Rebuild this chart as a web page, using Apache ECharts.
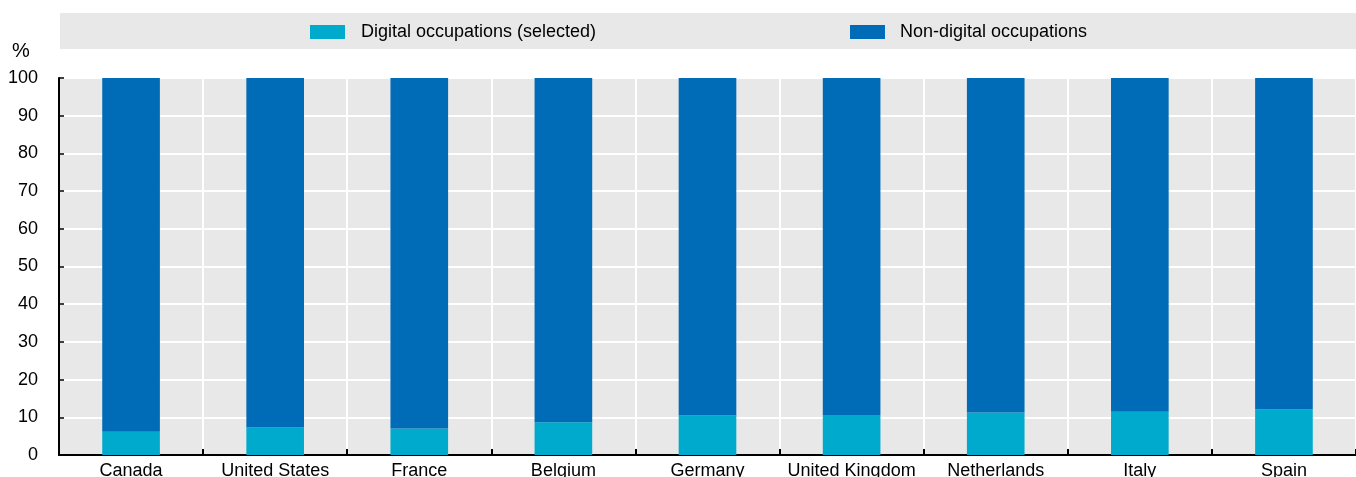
<!DOCTYPE html>
<html>
<head>
<meta charset="utf-8">
<script src="https://cdn.jsdelivr.net/npm/echarts@6/dist/echarts.min.js"></script>
<style>
  html, body { margin: 0; padding: 0; background: #fff; }
  #chart { width: 1356px; height: 477px; }
</style>
</head>
<body>
<div id="chart"></div>
<script>
const countries = ['Canada', 'United States', 'France', 'Belgium', 'Germany',
  'United Kingdom', 'Netherlands', 'Italy', 'Spain']
const digital = [6.2, 7.3, 7.0, 8.7, 10.5, 10.6, 11.3, 11.5, 12.1]
const nonDigital = [93.8, 92.7, 93.0, 91.3, 89.5, 89.4, 88.7, 88.5, 87.9]
const yTicks = { min: 0, max: 100, interval: 10 }

const font = 'Arial, "Liberation Sans", sans-serif'
const chart = echarts.init(document.getElementById('chart'))

const option = {
  animation: false,
  textStyle: { fontFamily: font },
  graphic: [
    {
      type: 'rect', z: -1,
      shape: { x: 60, y: 13, width: 1296, height: 36 },
      style: { fill: '#e8e8e8' }
    },
    {
      type: 'text', left: 12, top: 41,
      style: { text: '%', fontSize: 20, fontFamily: font, fill: '#000' }
    }
  ],
  legend: [
    {
      data: ['Digital occupations (selected)'],
      left: 305, top: 18,
      icon: 'rect', itemWidth: 35, itemHeight: 14,
      textStyle: { fontSize: 18, color: '#000', padding: [0, 0, 0, 11] }
    },
    {
      data: ['Non-digital occupations'],
      left: 845, top: 18,
      icon: 'rect', itemWidth: 35, itemHeight: 14,
      textStyle: { fontSize: 18, color: '#000', padding: [0, 0, 0, 10] }
    }
  ],
  grid: {
    left: 59, right: 0, top: 78, bottom: 22,
    outerBoundsMode: 'none', containLabel: false,
    show: true, backgroundColor: '#e8e8e8', borderWidth: 0
  },
  xAxis: {
    type: 'category',
    data: countries,
    axisLine: { lineStyle: { color: '#000', width: 2 } },
    axisTick: { show: true, inside: true, length: 6, interval: 0, lineStyle: { color: '#000', width: 2 } },
    axisLabel: { color: '#000', fontSize: 18, margin: 7, interval: 0 },
    splitLine: { show: true, interval: 0, lineStyle: { color: '#fff', width: 2 } }
  },
  yAxis: {
    type: 'value',
    min: yTicks.min, max: yTicks.max, interval: yTicks.interval,
    axisLine: { show: true, lineStyle: { color: '#000', width: 2 } },
    axisTick: { show: true, inside: true, length: 5, lineStyle: { color: '#000', width: 1.5 } },
    axisLabel: { color: '#000', fontSize: 18, margin: 21 },
    splitLine: { show: true, lineStyle: { color: '#fff', width: 2 } }
  },
  series: [
    {
      name: 'Digital occupations (selected)',
      type: 'bar', stack: 'total', barWidth: '40%',
      itemStyle: { color: '#00aacc' },
      data: digital
    },
    {
      name: 'Non-digital occupations',
      type: 'bar', stack: 'total', barWidth: '40%',
      itemStyle: { color: '#006bb6' },
      data: nonDigital
    }
  ]
}
chart.setOption(option)
</script>
</body>
</html>
